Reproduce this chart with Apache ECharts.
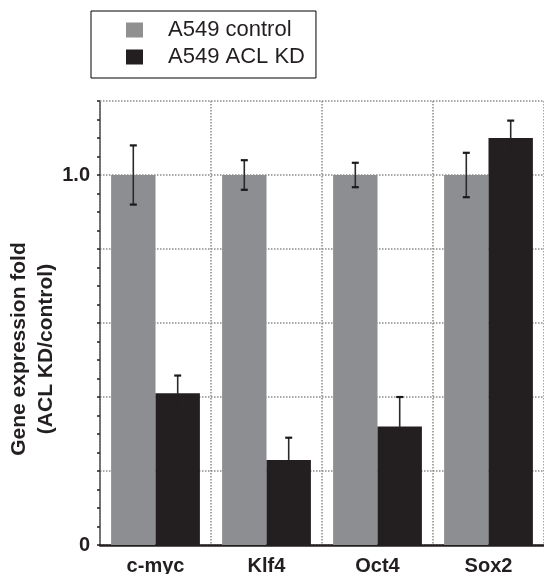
<!DOCTYPE html>
<html>
<head>
<meta charset="utf-8">
<style>
  html, body { margin: 0; padding: 0; background: #fff; }
  #chart { width: 544px; height: 574px; }
</style>
<script src="https://cdn.jsdelivr.net/npm/echarts@6/dist/echarts.min.js"></script>
</head>
<body>
<div id="chart"></div>
<script>
// values
var categories = ['c-myc', 'Klf4', 'Oct4', 'Sox2'];
var controlVals = [1.0, 1.0, 1.0, 1.0];
var controlErr = [0.08, 0.04, 0.033, 0.06];
var kdVals = [0.41, 0.23, 0.32, 1.10];
var kdErr = [0.048, 0.06, 0.08, 0.047];
var seriesNames = ['A549 control', 'A549 ACL KD'];

var grayCol = '#8d8e91';
var blackCol = '#231f20';

// halftone look for the control legend swatch
function checker() {
    var c = document.createElement('canvas');
    c.width = 2; c.height = 2;
    var ctx = c.getContext('2d');
    ctx.fillStyle = '#ffffff';
    ctx.fillRect(0, 0, 2, 2);
    ctx.fillStyle = '#222222';
    ctx.fillRect(0, 0, 1, 1);
    ctx.fillRect(1, 1, 1, 1);
    return c;
}

// side: -1 left bar, 1 right bar; lowColor lets the lower whisker melt into a dark bar
function errorSeries(vals, errs, side, lowColor) {
    var data = [];
    for (var i = 0; i < vals.length; i++) {
        data.push([i, vals[i], vals[i] - errs[i], vals[i] + errs[i]]);
    }
    return {
        type: 'custom',
        z: 10,
        silent: true,
        data: data,
        renderItem: function (params, api) {
            var catW = api.size([1, 0])[0];
            var off = side * catW * 0.8 / 4;
            var mid = api.coord([api.value(0), api.value(1)]);
            var lo = api.coord([api.value(0), api.value(2)]);
            var hi = api.coord([api.value(0), api.value(3)]);
            var x = mid[0] + off;
            var cap = 3.5;
            var up = { stroke: '#2a2a2a', lineWidth: 1.6 };
            var down = { stroke: lowColor || '#2a2a2a', lineWidth: 1.6 };
            var capUp = { stroke: '#1a1a1a', lineWidth: 2.2 };
            var capDown = { stroke: lowColor || '#1a1a1a', lineWidth: 2.2 };
            return {
                type: 'group',
                children: [
                    { type: 'line', shape: { x1: x, y1: mid[1], x2: x, y2: hi[1] }, style: up },
                    { type: 'line', shape: { x1: x, y1: lo[1], x2: x, y2: mid[1] }, style: down },
                    { type: 'line', shape: { x1: x - cap, y1: hi[1], x2: x + cap, y2: hi[1] }, style: capUp },
                    { type: 'line', shape: { x1: x - cap, y1: lo[1], x2: x + cap, y2: lo[1] }, style: capDown }
                ]
            };
        }
    };
}

var chart = echarts.init(document.getElementById('chart'));
var option = {
    animation: false,
    backgroundColor: '#fff',
    textStyle: { fontFamily: 'Liberation Sans, Arial, sans-serif', color: blackCol },
    legend: {
        orient: 'vertical',
        left: 91,
        top: 11,
        padding: [8, 11, 10, 35],
        itemGap: 5,
        itemWidth: 17,
        itemHeight: 15,
        borderColor: '#000',
        borderWidth: 1,
        selectedMode: false,
        textStyle: {
            fontSize: 22,
            lineHeight: 22,
            color: blackCol,
            padding: [0, 0, 0, 20]
        },
        data: [
            { name: seriesNames[0], icon: 'rect', itemStyle: { color: { image: checker(), repeat: 'repeat' } } },
            { name: seriesNames[1], icon: 'rect' }
        ]
    },
    grid: {
        left: 100,
        right: 0,
        top: 101,
        bottom: 29,
        outerBoundsMode: 'none',
        containLabel: false
    },
    xAxis: {
        type: 'category',
        data: categories,
        axisLine: { lineStyle: { color: blackCol, width: 2.5 } },
        axisTick: { show: false },
        axisLabel: {
            fontSize: 20,
            fontWeight: 'bold',
            color: blackCol,
            margin: 11
        },
        splitLine: {
            show: true,
            lineStyle: { color: '#8a8a8a', type: 'dotted', width: 1.5 }
        }
    },
    yAxis: {
        type: 'value',
        min: 0,
        max: 1.2,
        interval: 0.2,
        name: 'Gene expression fold\n(ACL KD/control)',
        nameLocation: 'middle',
        nameGap: 40,
        nameMoveOverlap: false,
        nameTextStyle: {
            fontSize: 21,
            fontWeight: 'bold',
            lineHeight: 27,
            color: blackCol,
            padding: [0, 52, 0, 0]
        },
        axisLine: { show: true, lineStyle: { color: '#444', type: 'dotted', width: 1.5 } },
        axisTick: { show: true, length: 3, lineStyle: { color: blackCol, width: 1.5 } },
        minorTick: { show: true, splitNumber: 4, length: 3, lineStyle: { color: blackCol, width: 1.5 } },
        axisLabel: {
            fontSize: 20,
            fontWeight: 'bold',
            color: blackCol,
            margin: 10,
            formatter: function (v) {
                if (Math.abs(v) < 1e-6) return '0';
                if (Math.abs(v - 1) < 1e-6) return '1.0';
                return '';
            }
        },
        splitLine: {
            show: true,
            lineStyle: { color: '#8a8a8a', type: 'dotted', width: 1.5 }
        }
    },
    series: [
        {
            name: seriesNames[0],
            type: 'bar',
            data: controlVals,
            barGap: '0%',
            barCategoryGap: '20%',
            itemStyle: { color: grayCol }
        },
        {
            name: seriesNames[1],
            type: 'bar',
            data: kdVals,
            barGap: '0%',
            barCategoryGap: '20%',
            itemStyle: { color: blackCol }
        },
        errorSeries(controlVals, controlErr, -1),
        errorSeries(kdVals, kdErr, 1, blackCol)
    ]
};
chart.setOption(option);
</script>
</body>
</html>
